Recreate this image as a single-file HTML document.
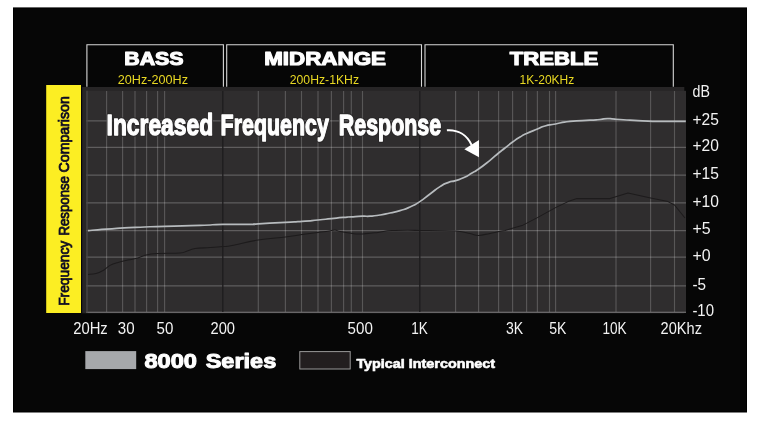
<!DOCTYPE html>
<html><head><meta charset="utf-8"><title>Frequency Response Comparison</title>
<style>
html,body{margin:0;padding:0;background:#fff;}
body{width:760px;height:423px;overflow:hidden;font-family:"Liberation Sans",sans-serif;}
svg{display:block;position:absolute;left:0;top:0;}
text{font-family:"Liberation Sans",sans-serif;}
</style></head><body>
<svg width="760" height="423" viewBox="0 0 760 423">
<rect x="0" y="0" width="760" height="423" fill="#ffffff"/>
<rect x="13" y="7.4" width="734" height="405.1" fill="#000000"/>
<rect x="14" y="8.6" width="732" height="402.6" fill="#060606"/>
<!-- yellow bar -->
<rect x="46.2" y="85" width="34.8" height="228" fill="#fcee23"/>
<!-- chart bg -->
<rect x="82.2" y="87" width="602.1" height="226.3" fill="#272526"/>
<rect x="86.2" y="90.8" width="599.8" height="222" fill="#2f2d2e"/>

<g stroke="#ffffff" stroke-opacity="0.2" stroke-width="1.15" fill="none">
<line x1="106.6" y1="91" x2="106.6" y2="312"/>
<line x1="122.6" y1="91" x2="122.6" y2="312"/>
<line x1="135" y1="91" x2="135" y2="312"/>
<line x1="146.6" y1="91" x2="146.6" y2="312"/>
<line x1="157.6" y1="91" x2="157.6" y2="312"/>
<line x1="164.6" y1="91" x2="164.6" y2="312"/>
<line x1="258.3" y1="91" x2="258.3" y2="312"/>
<line x1="285.4" y1="91" x2="285.4" y2="312"/>
<line x1="301.5" y1="91" x2="301.5" y2="312"/>
<line x1="318" y1="91" x2="318" y2="312"/>
<line x1="331.4" y1="91" x2="331.4" y2="312"/>
<line x1="343.6" y1="91" x2="343.6" y2="312"/>
<line x1="351.3" y1="91" x2="351.3" y2="312"/>
<line x1="362.5" y1="91" x2="362.5" y2="312"/>
<line x1="455.6" y1="91" x2="455.6" y2="312"/>
<line x1="478.6" y1="91" x2="478.6" y2="312"/>
<line x1="498.6" y1="91" x2="498.6" y2="312"/>
<line x1="512.6" y1="91" x2="512.6" y2="312"/>
<line x1="526.6" y1="91" x2="526.6" y2="312"/>
<line x1="537.4" y1="91" x2="537.4" y2="312"/>
<line x1="549.5" y1="91" x2="549.5" y2="312"/>
<line x1="555.6" y1="91" x2="555.6" y2="312"/>
<line x1="616" y1="91" x2="616" y2="312"/>
<line x1="650.6" y1="91" x2="650.6" y2="312"/>
<line x1="674.5" y1="91" x2="674.5" y2="312"/>
</g>
<g stroke="#ffffff" stroke-opacity="0.23" stroke-width="1.25" fill="none">
<line x1="86.2" y1="120.8" x2="686" y2="120.8"/>
<line x1="86.2" y1="147.3" x2="686" y2="147.3"/>
<line x1="86.2" y1="175.0" x2="686" y2="175.0"/>
<line x1="86.2" y1="202.8" x2="686" y2="202.8"/>
<line x1="86.2" y1="230.5" x2="686" y2="230.5"/>
<line x1="86.2" y1="257.0" x2="686" y2="257.0"/>
<line x1="86.2" y1="285.9" x2="686" y2="285.9"/>
</g>
<line x1="86.2" y1="312.3" x2="686" y2="312.3" stroke="#7d7b7c" stroke-width="1.1"/>
<g stroke="#1f1d1e" stroke-width="1.4" fill="none">
<line x1="222.8" y1="91" x2="222.8" y2="312"/>
<line x1="419.8" y1="91" x2="419.8" y2="312"/>
</g>
<line x1="87" y1="90.8" x2="87" y2="312.8" stroke="#4c4a4b" stroke-width="1.2"/>
<g stroke="#d8d8d8" stroke-width="1.1" fill="none">
<polyline points="86.9,86.8 86.9,44.7 223.4,44.7 223.4,86.8"/>
<polyline points="226.7,86.8 226.7,44.7 421.5,44.7 421.5,86.8"/>
<polyline points="425,86.8 425,44.7 673.3,44.7 673.3,86.8"/>
</g>
<path d="M88,274.4 C89.60,274.24 92.80,274.48 96,273.6 C99.20,272.72 101.20,271.64 104,270 C106.80,268.36 107.20,266.92 110,265.4 C112.80,263.88 114.40,263.48 118,262.4 C121.60,261.32 124.00,260.88 128,260 C132.00,259.12 134.40,259.00 138,258 C141.60,257.00 142.20,255.88 146,255 C149.80,254.12 150.20,254.00 157,253.6 C163.80,253.20 174.20,253.44 180,253 C185.80,252.56 183.00,252.28 186,251.4 C189.00,250.52 190.20,249.36 195,248.6 C199.80,247.84 204.44,248.00 210,247.6 C215.56,247.20 218.40,247.00 222.8,246.6 C227.20,246.20 224.90,246.92 232,245.6 C239.10,244.28 247.62,241.72 258.3,240 C268.98,238.28 276.66,238.08 285.4,237 C294.14,235.92 295.48,235.52 302,234.6 C308.52,233.68 312.80,233.08 318,232.4 C323.20,231.72 324.60,231.68 328,231.2 C331.40,230.72 332.60,229.92 335,230 C337.40,230.08 336.80,230.96 340,231.6 C343.20,232.24 347.00,232.72 351,233.2 C355.00,233.68 354.60,234.16 360,234 C365.40,233.84 371.60,233.08 378,232.4 C384.40,231.72 383.60,231.00 392,230.6 C400.40,230.20 407.28,230.32 420,230.4 C432.72,230.48 445.60,230.36 455.6,231 C465.60,231.64 465.40,232.72 470,233.6 C474.60,234.48 474.60,235.44 478.6,235.4 C482.60,235.36 484.72,234.40 490,233.4 C495.28,232.40 502.00,231.00 505,230.4 L522,225.6 L537.4,217.6 L555.6,207.6 L568,201.6 L577,198.6 L610,198.6 L628,193 L650.6,198 L668,201.6 L674.5,205 L685,218" fill="none" stroke="#1d1b1c" stroke-width="1.05" stroke-linejoin="round"/>
<path d="M88,230.6 C94.20,230.13 90.93,230.27 106.6,229.2 C122.27,228.13 115.67,228.33 135,227.4 C154.33,226.47 142.93,227.07 164.6,226.4 C186.27,225.73 180.60,226.07 200,225.4 C219.40,224.73 206.13,224.73 222.8,224.4 C239.47,224.07 238.17,224.60 250,224.4 C261.83,224.20 246.50,224.47 258.3,223.8 C270.10,223.13 270.83,223.20 285.4,222.4 C299.97,221.60 291.13,222.20 302,221.4 C312.87,220.60 308.20,220.93 318,220 C327.80,219.07 322.87,219.47 331.4,218.6 C339.93,217.73 336.97,218.00 343.6,217.4 C350.23,216.80 345.00,217.20 351.3,216.8 C357.60,216.40 356.27,216.40 362.5,216.2 C368.73,216.00 364.17,216.60 370,216.2 C375.83,215.80 373.33,216.07 380,215 C386.67,213.93 383.33,214.47 390,213 C396.67,211.53 393.33,212.60 400,210.6 C406.67,208.60 403.40,210.00 410,207 C416.60,204.00 413.13,205.93 419.8,201.6 C426.47,197.27 423.27,199.00 430,194 C436.73,189.00 434.00,190.40 440,186.6 C446.00,182.80 442.80,184.60 448,182.6 C453.20,180.60 450.27,182.27 455.6,180.6 C460.93,178.93 458.53,180.13 464,177.6 C469.47,175.07 467.13,175.87 472,173 C476.87,170.13 472.60,173.23 478.6,169 C484.60,164.77 483.33,165.63 490,160.3 C496.67,154.97 493.60,157.10 498.6,153 C503.60,148.90 500.33,151.67 505,148 C509.67,144.33 507.60,145.67 512.6,142 C517.60,138.33 515.33,139.80 520,137 C524.67,134.20 520.80,136.27 526.6,133.6 C532.40,130.93 531.27,131.53 537.4,129 C543.53,126.47 538.93,127.67 545,126 C551.07,124.33 547.27,125.53 555.6,124 C563.93,122.47 558.53,122.67 570,121.4 C581.47,120.13 580.00,120.83 590,120.2 C600.00,119.57 594.20,120.03 600,119.5 C605.80,118.97 602.40,118.70 607.4,118.6 C612.40,118.50 607.47,118.70 615,119.2 C622.53,119.70 619.00,119.47 630,120.1 C641.00,120.73 638.00,120.70 648,121.1 C658.00,121.50 647.40,121.20 660,121.3 C672.60,121.40 677.20,121.37 685.8,121.4" fill="none" stroke="#b7bbbe" stroke-width="1.7" stroke-linejoin="round" stroke-linecap="butt"/>
<path d="M446.9,130.3 C458,129.5 467,135 471.6,145" fill="none" stroke="#ffffff" stroke-width="1.9"/>
<polygon points="464.3,149.2 479,140.1 479,157.2" fill="#ffffff"/>
<g style="will-change:opacity;opacity:0.999">
<text x="124.3" y="64.8" font-size="18.0" font-weight="bold" fill="#ffffff" textLength="59.3" lengthAdjust="spacingAndGlyphs" stroke="#ffffff" stroke-width="1.1" stroke-linejoin="round">BASS</text>
<text x="264.2" y="64.8" font-size="18.0" font-weight="bold" fill="#ffffff" textLength="121.8" lengthAdjust="spacingAndGlyphs" stroke="#ffffff" stroke-width="1.1" stroke-linejoin="round">MIDRANGE</text>
<text x="509.7" y="64.8" font-size="18.0" font-weight="bold" fill="#ffffff" textLength="88.6" lengthAdjust="spacingAndGlyphs" stroke="#ffffff" stroke-width="1.1" stroke-linejoin="round">TREBLE</text>
<text x="117.8" y="84" font-size="13.2" font-weight="normal" fill="#e9d924" textLength="70.2" lengthAdjust="spacingAndGlyphs" >20Hz-200Hz</text>
<text x="289.8" y="84" font-size="13.2" font-weight="normal" fill="#e9d924" textLength="69.2" lengthAdjust="spacingAndGlyphs" >200Hz-1KHz</text>
<text x="519.5" y="84" font-size="13.2" font-weight="normal" fill="#e9d924" textLength="54.8" lengthAdjust="spacingAndGlyphs" >1K-20KHz</text>
<text x="106.6" y="135.3" font-size="29.4" font-weight="bold" fill="#ffffff" textLength="106.5" lengthAdjust="spacingAndGlyphs" stroke="#2a2829" stroke-width="3.6" stroke-linejoin="round">Increased</text>
<text x="220.6" y="135.3" font-size="29.4" font-weight="bold" fill="#ffffff" textLength="108.2" lengthAdjust="spacingAndGlyphs" stroke="#2a2829" stroke-width="3.6" stroke-linejoin="round">Frequency</text>
<text x="338.8" y="135.3" font-size="29.4" font-weight="bold" fill="#ffffff" textLength="102.3" lengthAdjust="spacingAndGlyphs" stroke="#2a2829" stroke-width="3.6" stroke-linejoin="round">Response</text>
<text x="106.6" y="135.3" font-size="29.4" font-weight="bold" fill="#ffffff" textLength="106.5" lengthAdjust="spacingAndGlyphs" stroke="#ffffff" stroke-width="1.3" stroke-linejoin="round">Increased</text>
<text x="220.6" y="135.3" font-size="29.4" font-weight="bold" fill="#ffffff" textLength="108.2" lengthAdjust="spacingAndGlyphs" stroke="#ffffff" stroke-width="1.3" stroke-linejoin="round">Frequency</text>
<text x="338.8" y="135.3" font-size="29.4" font-weight="bold" fill="#ffffff" textLength="102.3" lengthAdjust="spacingAndGlyphs" stroke="#ffffff" stroke-width="1.3" stroke-linejoin="round">Response</text>
<text x="692.5" y="96.5" font-size="15.8" font-weight="normal" fill="#f4f4f4" textLength="17.4" lengthAdjust="spacingAndGlyphs" >dB</text>
<text x="692.4" y="124.6" font-size="16.3" font-weight="normal" fill="#f4f4f4" textLength="26.4" lengthAdjust="spacingAndGlyphs" >+25</text>
<text x="692.4" y="150.8" font-size="16.3" font-weight="normal" fill="#f4f4f4" textLength="26.4" lengthAdjust="spacingAndGlyphs" >+20</text>
<text x="692.4" y="179.2" font-size="16.3" font-weight="normal" fill="#f4f4f4" textLength="26.4" lengthAdjust="spacingAndGlyphs" >+15</text>
<text x="692.4" y="206.5" font-size="16.3" font-weight="normal" fill="#f4f4f4" textLength="26.4" lengthAdjust="spacingAndGlyphs" >+10</text>
<text x="692.4" y="233.9" font-size="16.3" font-weight="normal" fill="#f4f4f4" textLength="18.2" lengthAdjust="spacingAndGlyphs" >+5</text>
<text x="692.4" y="260.9" font-size="16.3" font-weight="normal" fill="#f4f4f4" textLength="18.2" lengthAdjust="spacingAndGlyphs" >+0</text>
<text x="692.4" y="289.8" font-size="16.3" font-weight="normal" fill="#f4f4f4" textLength="13.6" lengthAdjust="spacingAndGlyphs" >-5</text>
<text x="692.4" y="315.9" font-size="16.3" font-weight="normal" fill="#f4f4f4" textLength="21.6" lengthAdjust="spacingAndGlyphs" >-10</text>
<text x="73.2" y="333.8" font-size="16.3" font-weight="normal" fill="#f4f4f4" textLength="34.6" lengthAdjust="spacingAndGlyphs" >20Hz</text>
<text x="117.8" y="333.8" font-size="16.3" font-weight="normal" fill="#f4f4f4" textLength="16.8" lengthAdjust="spacingAndGlyphs" >30</text>
<text x="156.6" y="333.8" font-size="16.3" font-weight="normal" fill="#f4f4f4" textLength="16.8" lengthAdjust="spacingAndGlyphs" >50</text>
<text x="210.5" y="333.8" font-size="16.3" font-weight="normal" fill="#f4f4f4" textLength="24.5" lengthAdjust="spacingAndGlyphs" >200</text>
<text x="347.6" y="333.8" font-size="16.3" font-weight="normal" fill="#f4f4f4" textLength="25.2" lengthAdjust="spacingAndGlyphs" >500</text>
<text x="411.2" y="333.8" font-size="16.3" font-weight="normal" fill="#f4f4f4" textLength="16.6" lengthAdjust="spacingAndGlyphs" >1K</text>
<text x="506" y="333.8" font-size="16.3" font-weight="normal" fill="#f4f4f4" textLength="17.2" lengthAdjust="spacingAndGlyphs" >3K</text>
<text x="549.2" y="333.8" font-size="16.3" font-weight="normal" fill="#f4f4f4" textLength="17.2" lengthAdjust="spacingAndGlyphs" >5K</text>
<text x="602.4" y="333.8" font-size="16.3" font-weight="normal" fill="#f4f4f4" textLength="24.2" lengthAdjust="spacingAndGlyphs" >10K</text>
<text x="660.6" y="333.8" font-size="16.3" font-weight="normal" fill="#f4f4f4" textLength="41.4" lengthAdjust="spacingAndGlyphs" >20Khz</text>
<rect x="85.3" y="351.1" width="50.9" height="18" fill="#a7a9ac"/>
<rect x="299.8" y="351.6" width="50.4" height="17.4" fill="#231f20" stroke="#9a9a9a" stroke-width="1"/>
<text x="144.4" y="367.9" font-size="19.9" font-weight="bold" fill="#ffffff" textLength="52.6" lengthAdjust="spacingAndGlyphs" stroke="#ffffff" stroke-width="1.0" stroke-linejoin="round">8000</text>
<text x="205.7" y="367.9" font-size="19.9" font-weight="bold" fill="#ffffff" textLength="70.6" lengthAdjust="spacingAndGlyphs" stroke="#ffffff" stroke-width="1.0" stroke-linejoin="round">Series</text>
<text x="356.4" y="367.7" font-size="12.6" font-weight="bold" fill="#ffffff" textLength="138.6" lengthAdjust="spacingAndGlyphs" stroke="#ffffff" stroke-width="0.6" stroke-linejoin="round">Typical Interconnect</text>
<g transform="translate(69.1,305) rotate(-90)" font-size="14.8" font-weight="normal" fill="#0e0c24" stroke="#0e0c24" stroke-width="0.8">
<text x="-0.8" y="0" textLength="65.0" lengthAdjust="spacingAndGlyphs">Frequency</text>
<text x="69.4" y="0" textLength="59.6" lengthAdjust="spacingAndGlyphs">Response</text>
<text x="132.6" y="0" textLength="76.2" lengthAdjust="spacingAndGlyphs">Comparison</text>
</g>
</g>
</svg></body></html>
